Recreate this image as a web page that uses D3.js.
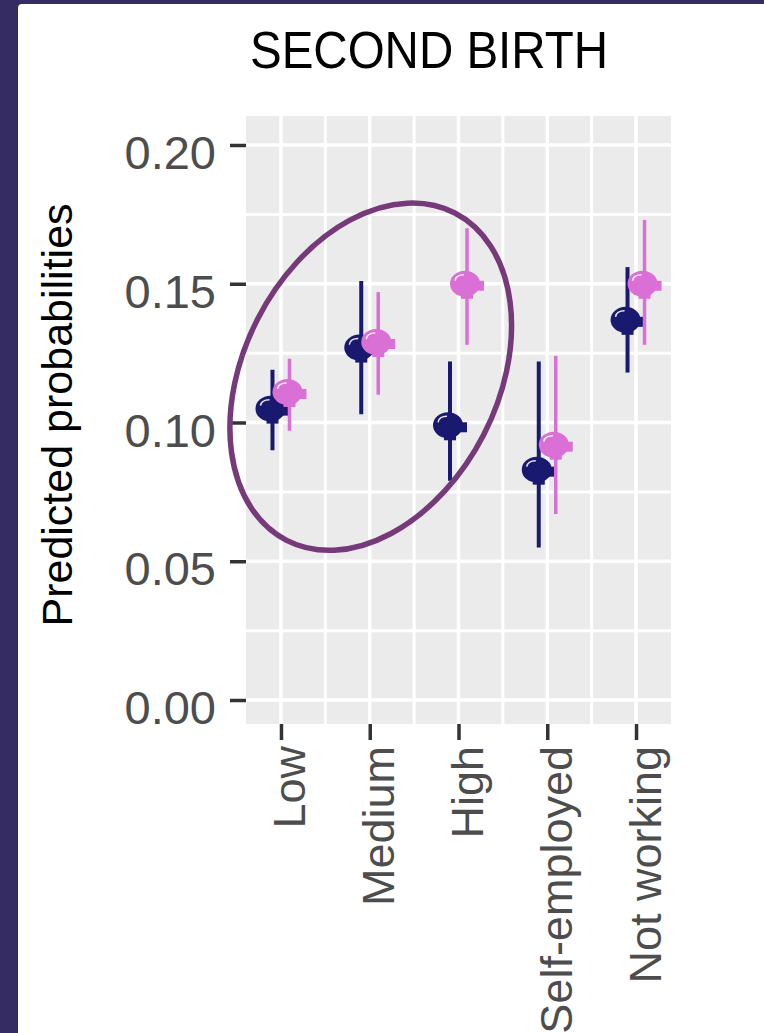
<!DOCTYPE html>
<html>
<head>
<meta charset="utf-8">
<script src="https://cdn.jsdelivr.net/npm/d3@7"></script>
<style>
  html, body { margin: 0; padding: 0; background: #352c64; }
  svg { display: block; }
</style>
</head>
<body>
<div id="chart"></div>
<script>
/* Data */
var categories = ["Low", "Medium", "High", "Self-employed", "Not working"];
var navyEst = [0.105, 0.127, 0.099, 0.083, 0.137];
var navyLow = [0.090, 0.103, 0.079, 0.055, 0.118];
var navyHigh = [0.119, 0.151, 0.122, 0.122, 0.156];
var pinkEst = [0.111, 0.129, 0.150, 0.092, 0.150];
var pinkLow = [0.097, 0.110, 0.128, 0.067, 0.128];
var pinkHigh = [0.123, 0.147, 0.170, 0.124, 0.173];
var yTicks = [0, 0.05, 0.10, 0.15, 0.20];
var yMinor = [0.025, 0.075, 0.125, 0.175];

var W = 764, H = 1033,
    fontFamily = "'Liberation Sans', Arial, Helvetica, sans-serif";

var svg = d3.select("#chart").append("svg")
    .attr("width", W)
    .attr("height", H);

/* Card background with dark frame at left and top */
svg.append("rect")
    .attr("x", 0).attr("y", 0).attr("width", W).attr("height", H)
    .attr("fill", "#352c64");
svg.append("rect")
    .attr("x", 18).attr("y", 4).attr("width", W).attr("height", H)
    .attr("rx", 4)
    .attr("fill", "#ffffff");

/* Scales */
var x = d3.scalePoint()
    .domain(categories)
    .range([246, 671])
    .padding(0.394);

var y = d3.scaleLinear()
    .domain([0, 0.2])
    .range([700, 145]);

var panel = { left: 246, right: 671, top: 116, bottom: 724 };
var dodge = { navy: -8.5, pink: 8.5 };

/* Panel */
svg.append("rect")
    .attr("x", panel.left).attr("y", panel.top)
    .attr("width", panel.right - panel.left)
    .attr("height", panel.bottom - panel.top)
    .attr("fill", "#ebebeb");

var grid = svg.append("g").attr("stroke", "#ffffff");

grid.selectAll("line.hminor")
    .data(yMinor)
    .enter().append("line")
    .attr("x1", panel.left).attr("x2", panel.right)
    .attr("y1", function(d) { return y(d); })
    .attr("y2", function(d) { return y(d); })
    .attr("stroke-width", 3);

var xMid = categories.slice(1).map(function(c, i) {
    return (x(categories[i]) + x(c)) / 2;
});
grid.selectAll("line.vminor")
    .data(xMid)
    .enter().append("line")
    .attr("y1", panel.top).attr("y2", panel.bottom)
    .attr("x1", function(d) { return d; })
    .attr("x2", function(d) { return d; })
    .attr("stroke-width", 3);

grid.selectAll("line.hmajor")
    .data(yTicks)
    .enter().append("line")
    .attr("x1", panel.left).attr("x2", panel.right)
    .attr("y1", function(d) { return y(d); })
    .attr("y2", function(d) { return y(d); })
    .attr("stroke-width", 3.5);

grid.selectAll("line.vmajor")
    .data(categories)
    .enter().append("line")
    .attr("y1", panel.top).attr("y2", panel.bottom)
    .attr("x1", function(d) { return x(d); })
    .attr("x2", function(d) { return x(d); })
    .attr("stroke-width", 3.5);

/* Axes */
var yAxis = svg.append("g")
    .attr("transform", "translate(" + panel.left + ",0)")
    .call(d3.axisLeft(y).tickValues(yTicks).tickSize(16).tickPadding(14)
        .tickFormat(d3.format(".2f")));
yAxis.select(".domain").remove();
yAxis.selectAll(".tick line").attr("stroke", "#333333").attr("stroke-width", 3.5);
yAxis.selectAll(".tick text")
    .attr("fill", "#4d4d4d")
    .attr("font-family", fontFamily)
    .attr("font-size", 47)
    .attr("x", -30)
    .attr("dy", "0.5em");

var xAxis = svg.append("g")
    .attr("transform", "translate(0," + panel.bottom + ")")
    .call(d3.axisBottom(x).tickSize(16).tickPadding(8));
xAxis.select(".domain").remove();
xAxis.selectAll(".tick line").attr("stroke", "#333333").attr("stroke-width", 3.5);
xAxis.selectAll(".tick text")
    .attr("fill", "#4d4d4d")
    .attr("font-family", fontFamily)
    .attr("font-size", 45)
    .attr("text-anchor", "end")
    .attr("transform", "rotate(-90)")
    .attr("x", -22)
    .attr("y", 0)
    .attr("dy", 24);

/* Axis title and plot title */
svg.append("text")
    .attr("transform", "translate(72,415) rotate(-90)")
    .attr("text-anchor", "middle")
    .attr("font-family", fontFamily)
    .attr("font-size", 43)
    .attr("fill", "#000000")
    .text("Predicted probabilities");

svg.append("text")
    .attr("x", 429)
    .attr("y", 68)
    .attr("text-anchor", "middle")
    .attr("font-family", fontFamily)
    .attr("font-size", 51)
    .attr("textLength", 358)
    .attr("lengthAdjust", "spacingAndGlyphs")
    .attr("fill", "#000000")
    .text("SECOND BIRTH");

/* Point ranges */
function series(est, lo, hi, key) {
    return categories.map(function(c, i) {
        return { cat: c, est: est[i], lo: lo[i], hi: hi[i], key: key };
    });
}
var groups = [
    { key: "navy", color: "#191970", width: 4, data: series(navyEst, navyLow, navyHigh, "navy") },
    { key: "pink", color: "#da70d6", width: 3.5, data: series(pinkEst, pinkLow, pinkHigh, "pink") }
];

groups.forEach(function(g) {
    var layer = svg.append("g").attr("class", "series-" + g.key);
    var cx = function(d) { return x(d.cat) + dodge[g.key]; };

    layer.selectAll("line.range")
        .data(g.data)
        .enter().append("line")
        .attr("x1", cx).attr("x2", cx)
        .attr("y1", function(d) { return y(d.lo); })
        .attr("y2", function(d) { return y(d.hi); })
        .attr("stroke", g.color)
        .attr("stroke-width", g.width);

    var pt = layer.selectAll("g.pt")
        .data(g.data)
        .enter().append("g")
        .attr("transform", function(d) { return "translate(" + cx(d) + "," + y(d.est) + ")"; });

    pt.append("ellipse")
        .attr("cx", -2).attr("cy", 0)
        .attr("rx", 15).attr("ry", 13)
        .attr("fill", g.color);
    pt.append("rect")
        .attr("x", 8).attr("y", -3)
        .attr("width", 9).attr("height", 10)
        .attr("fill", g.color);
    pt.append("rect")
        .attr("x", -6).attr("y", 9)
        .attr("width", 12).attr("height", 6)
        .attr("fill", g.color);
    pt.append("path")
        .attr("d", "M-12,-3 Q-11,-9 -3,-9")
        .attr("fill", "none")
        .attr("stroke", "#ffffff")
        .attr("stroke-width", 1.5)
        .attr("opacity", 0.9);
});

/* Highlight ellipse round Low, Medium and High */
svg.append("ellipse")
    .attr("cx", 0).attr("cy", 0)
    .attr("rx", 184).attr("ry", 127)
    .attr("transform", "translate(" + (x("Medium") + 1) + "," + y(0.1165) + ") rotate(-62.8)")
    .attr("fill", "none")
    .attr("stroke", "#763a7a")
    .attr("stroke-width", 5.5);
</script>
</body>
</html>
